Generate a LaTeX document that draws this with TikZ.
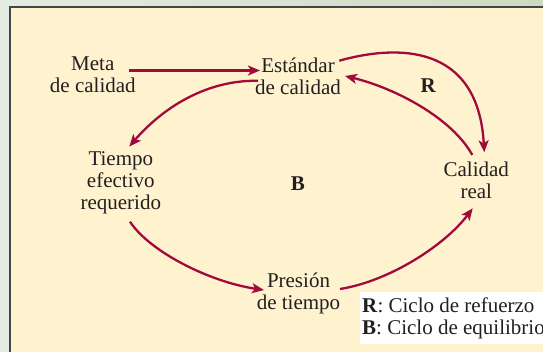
\documentclass[tikz,border=0pt]{standalone}
\usepackage{fontspec}
\setmainfont{Liberation Serif}
\usetikzlibrary{arrows.meta}
\definecolor{cream}{HTML}{FEF2CF}
\definecolor{arrowred}{HTML}{A30A3C}
\definecolor{txt}{HTML}{231F20}
\definecolor{bgl}{HTML}{E4EBE2}
\definecolor{bgr}{HTML}{CCDAC2}
\definecolor{framec}{HTML}{454545}
\begin{document}
\begin{tikzpicture}[x=1pt,y=-1pt,
  lbl/.style={anchor=north,align=center,inner sep=0pt,text=txt,font=\fontsize{21}{21.8}\selectfont},
  single/.style={inner sep=0pt,text=txt,font=\fontsize{21}{21.8}\selectfont},
  conn/.style={draw=arrowred,line width=2.3pt,-{Stealth[length=12pt,width=10pt,inset=3pt]}},
]
\useasboundingbox (0,0) rectangle (543,351);
\fill[left color=bgl,right color=bgr] (0,0) rectangle (543,351);
\draw[fill=cream,draw=framec,line width=1.5pt] (10,6.8) rectangle (570,380);
\fill[white] (360,291.7) rectangle (560,344);

\node[lbl] (meta) at (92.8,55) {\rule{0pt}{15pt}Meta\\de calidad};
\node[lbl] (est) at (298,57.3) {\rule{0pt}{15pt}Estándar\\de calidad};
\node[lbl] (tiempo) at (120.8,150.7) {\rule{0pt}{15pt}Tiempo\\efectivo\\requerido};
\node[lbl] (calidad) at (476.3,161.7) {\rule{0pt}{15pt}Calidad\\real};
\node[lbl] (presion) at (298.5,272.3) {\rule{0pt}{15pt}Presión\\de tiempo};
\node[single,anchor=base] (bl) at (297.8,190) {\textbf{B}};
\node[single,anchor=base] (rl) at (428.3,92) {\textbf{R}};
\node[single,anchor=base west] (legr) at (362,312.3) {\textbf{R}: Ciclo de refuerzo};
\node[single,anchor=base west] (legb) at (362,334) {\textbf{B}: Ciclo de equilibrio};

\draw[conn] ([shift={(36.2,15.5)}]meta.north) -- ([shift={(-38,13.2)}]est.north);
\draw[conn] ([shift={(-40,23.4)}]est.north) .. controls (195,80) and (152,120) .. ([shift={(8.5,-4.2)}]tiempo.north);
\draw[conn] ([shift={(9.2,71)}]tiempo.north) .. controls (150,252) and (210,282) .. ([shift={(-34.5,17.7)}]presion.north);
\draw[conn] ([shift={(41.5,16.7)}]presion.north) .. controls (390,281) and (445,245) .. ([shift={(-3.6,46.6)}]calidad.north);
\draw[conn] ([shift={(-4,-6.7)}]calidad.north) .. controls (452,118) and (395,88) .. ([shift={(47,18.7)}]est.north);
\draw[conn] ([shift={(41.3,3.4)}]est.north) .. controls (395,45) and (478,42) .. ([shift={(8,-9.4)}]calidad.north);
\end{tikzpicture}
\end{document}
